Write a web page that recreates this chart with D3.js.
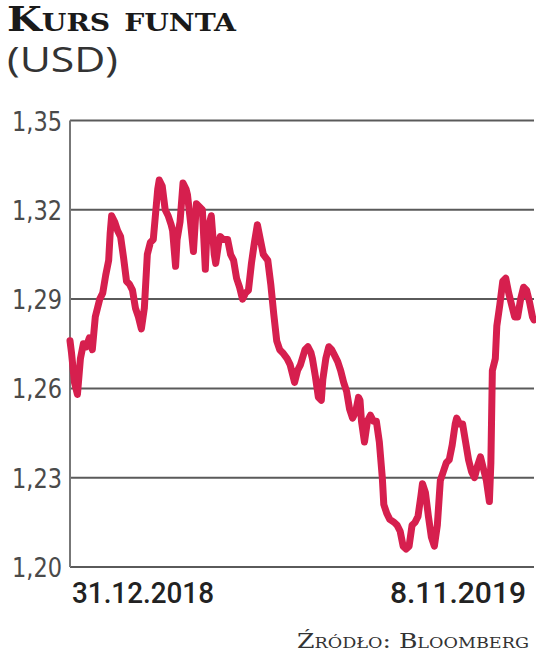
<!DOCTYPE html>
<html>
<head>
<meta charset="utf-8">
<script src="https://cdn.jsdelivr.net/npm/d3@7/dist/d3.min.js"></script>
<style>
html, body { margin: 0; padding: 0; background: #fff; }
svg { display: block; }
</style>
</head>
<body>
<svg id="chart" width="536" height="660"></svg>
<script>
const title = "Kurs funta";
const subtitle = "(USD)";
const source = "Źródło: Bloomberg";
const yTicks = [1.20, 1.23, 1.26, 1.29, 1.32, 1.35];
const xTickLabels = ["31.12.2018", "8.11.2019"];

const dates = [
"2018-12-31","2019-01-01","2019-01-03","2019-01-05","2019-01-07","2019-01-09","2019-01-11","2019-01-13","2019-01-15","2019-01-17",
"2019-01-20","2019-01-22","2019-01-24","2019-01-26","2019-01-27","2019-01-28","2019-01-30","2019-02-01","2019-02-03","2019-02-05",
"2019-02-07","2019-02-09","2019-02-11","2019-02-13","2019-02-15","2019-02-17","2019-02-19","2019-02-21","2019-02-23","2019-02-25",
"2019-02-28","2019-03-01","2019-03-03","2019-03-05","2019-03-07","2019-03-09","2019-03-10","2019-03-12","2019-03-13","2019-03-15",
"2019-03-17","2019-03-19","2019-03-20","2019-03-22","2019-03-24","2019-03-25","2019-03-26","2019-03-28","2019-03-30","2019-04-01",
"2019-04-02","2019-04-04","2019-04-05","2019-04-07","2019-04-08","2019-04-10","2019-04-11","2019-04-13","2019-04-16","2019-04-18",
"2019-04-20","2019-04-22","2019-04-24","2019-04-26","2019-04-28","2019-04-30","2019-05-02","2019-05-04","2019-05-06","2019-05-08",
"2019-05-10","2019-05-13","2019-05-15","2019-05-17","2019-05-19","2019-05-21","2019-05-23","2019-05-26","2019-05-28","2019-05-30",
"2019-05-31","2019-06-02","2019-06-04","2019-06-07","2019-06-09","2019-06-11","2019-06-12","2019-06-14","2019-06-16","2019-06-18",
"2019-06-19","2019-06-21","2019-06-23","2019-06-25","2019-06-27","2019-06-29","2019-07-01","2019-07-03","2019-07-05","2019-07-07",
"2019-07-09","2019-07-11","2019-07-13","2019-07-14","2019-07-15","2019-07-17","2019-07-19","2019-07-21","2019-07-23","2019-07-25",
"2019-07-27","2019-07-29","2019-07-30","2019-08-01","2019-08-03","2019-08-06","2019-08-08","2019-08-10","2019-08-12","2019-08-14",
"2019-08-16","2019-08-18","2019-08-20","2019-08-22","2019-08-24","2019-08-25","2019-08-27","2019-08-29","2019-08-31","2019-09-02",
"2019-09-04","2019-09-06","2019-09-08","2019-09-10","2019-09-12","2019-09-14","2019-09-16","2019-09-17","2019-09-19","2019-09-21",
"2019-09-23","2019-09-25","2019-09-27","2019-09-29","2019-10-01","2019-10-03","2019-10-05","2019-10-07","2019-10-09","2019-10-10",
"2019-10-11","2019-10-13","2019-10-14","2019-10-16","2019-10-18","2019-10-20","2019-10-22","2019-10-24","2019-10-26","2019-10-28",
"2019-10-30","2019-11-01","2019-11-03","2019-11-05","2019-11-07","2019-11-08"
];
const rates = [
1.276,1.272,1.262,1.258,1.270,1.275,1.274,1.277,1.273,1.284,
1.290,1.292,1.298,1.303,1.312,1.318,1.316,1.313,1.311,1.304,
1.296,1.295,1.293,1.287,1.284,1.280,1.287,1.305,1.309,1.310,
1.327,1.330,1.328,1.320,1.318,1.315,1.313,1.301,1.310,1.316,
1.329,1.327,1.325,1.316,1.306,1.314,1.322,1.321,1.320,1.300,
1.312,1.316,1.318,1.305,1.302,1.309,1.311,1.310,1.310,1.305,
1.303,1.297,1.294,1.290,1.292,1.293,1.302,1.309,1.315,1.310,
1.305,1.303,1.295,1.285,1.276,1.273,1.272,1.270,1.268,1.264,
1.262,1.266,1.268,1.273,1.274,1.272,1.270,1.264,1.257,1.256,
1.263,1.270,1.274,1.273,1.271,1.269,1.266,1.262,1.259,1.253,
1.250,1.252,1.257,1.256,1.249,1.242,1.249,1.251,1.249,1.249,
1.242,1.230,1.221,1.218,1.216,1.215,1.214,1.212,1.207,1.206,
1.207,1.214,1.215,1.217,1.224,1.228,1.225,1.217,1.210,1.207,
1.214,1.229,1.232,1.235,1.236,1.241,1.248,1.250,1.248,1.248,
1.242,1.236,1.232,1.230,1.234,1.237,1.233,1.229,1.222,1.235,
1.266,1.270,1.281,1.288,1.296,1.297,1.292,1.288,1.284,1.284,
1.290,1.294,1.293,1.289,1.284,1.283
];

const parse = d3.timeParse("%Y-%m-%d");
const data = dates.map((d, i) => ({ date: parse(d), value: rates[i] }));

const svg = d3.select("#chart");
const mLeft = 70, mRight = 534, mTop = 120.5, mBottom = 567;

const x = d3.scaleTime()
  .domain(d3.extent(data, d => d.date))
  .range([mLeft, mRight]);
const y = d3.scaleLinear()
  .domain([1.20, 1.35])
  .range([mBottom, mTop]);

// Title
svg.append("text")
  .attr("x", 7).attr("y", 31)
  .attr("font-family", "'DejaVu Serif', serif")
  .attr("font-weight", "bold")
  .attr("font-size", 34)
  .style("font-variant", "small-caps")
  .attr("fill", "#1a1a1a")
  .attr("textLength", 229)
  .attr("lengthAdjust", "spacingAndGlyphs")
  .text(title);

svg.append("text")
  .attr("x", 7).attr("y", 72)
  .attr("font-family", "'Open Sans', sans-serif")
  .attr("font-size", 35)
  .attr("fill", "#333")
  .attr("textLength", 111)
  .attr("lengthAdjust", "spacingAndGlyphs")
  .text(subtitle);

// Gridlines
const fmt = v => d3.format(".2f")(v).replace(".", ",");
svg.append("g")
  .selectAll("line")
  .data(yTicks)
  .join("line")
  .attr("x1", mLeft).attr("x2", mRight)
  .attr("y1", d => y(d)).attr("y2", d => y(d))
  .attr("stroke", "#5a5a5a")
  .attr("stroke-width", 2);

// Left axis line
svg.append("line")
  .attr("x1", mLeft).attr("x2", mLeft)
  .attr("y1", y(1.35)).attr("y2", y(1.20))
  .attr("stroke", "#777")
  .attr("stroke-width", 2);

// Y labels
svg.append("g")
  .selectAll("text")
  .data(yTicks)
  .join("text")
  .attr("x", 62)
  .attr("y", d => y(d) + 10)
  .attr("text-anchor", "end")
  .attr("font-family", "'DejaVu Sans Condensed', 'DejaVu Sans', sans-serif")
  .attr("font-size", 27)
  .attr("fill", "#4a4a4a")
  .attr("textLength", 50)
  .attr("lengthAdjust", "spacingAndGlyphs")
  .text(d => fmt(d));

// Line
const line = d3.line()
  .x(d => x(d.date))
  .y(d => y(d.value))
  .curve(d3.curveLinear);

svg.append("path")
  .datum(data)
  .attr("d", line)
  .attr("fill", "none")
  .attr("stroke", "#d61f4e")
  .attr("stroke-width", 7)
  .attr("stroke-linejoin", "round")
  .attr("stroke-linecap", "round");

// X labels
svg.append("text")
  .attr("x", 72).attr("y", 603)
  .attr("font-family", "Roboto, sans-serif")
  .attr("font-weight", 500)
  .attr("font-size", 30)
  .attr("fill", "#222")
  .attr("textLength", 142)
  .attr("lengthAdjust", "spacingAndGlyphs")
  .text(xTickLabels[0]);

svg.append("text")
  .attr("x", 526).attr("y", 603)
  .attr("text-anchor", "end")
  .attr("font-family", "Roboto, sans-serif")
  .attr("font-weight", 500)
  .attr("font-size", 30)
  .attr("fill", "#222")
  .text(xTickLabels[1]);

// Source
svg.append("text")
  .attr("x", 297).attr("y", 648)
  .attr("font-family", "'DejaVu Serif', serif")
  .attr("font-size", 20)
  .style("font-variant", "small-caps")
  .attr("fill", "#333")
  .attr("textLength", 232)
  .attr("lengthAdjust", "spacingAndGlyphs")
  .text(source);
</script>
</body>
</html>
